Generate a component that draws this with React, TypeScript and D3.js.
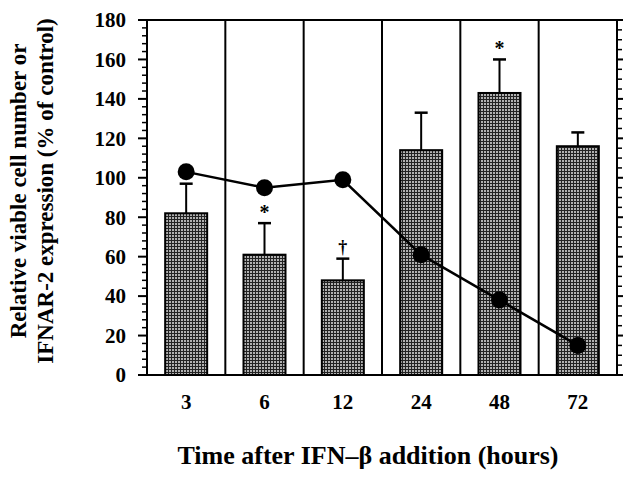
import React from "react";
import * as d3 from "d3";

const categories = ["3", "6", "12", "24", "48", "72"];
const barValues = [82, 61, 48, 114, 143, 116];
const errorTops = [97, 77, 59, 133, 160, 123];
const lineValues = [103, 95, 99, 61, 38, 15];
const marks = ["", "*", "†", "", "*", ""];
const yMajorTicks = [0, 20, 40, 60, 80, 100, 120, 140, 160, 180];

const W = 623;
const H = 478;
const M = { left: 147, right: 6, top: 20, bottom: 103 };

export default function App() {
  const x = d3
    .scaleBand<string>()
    .domain(categories)
    .range([M.left, W - M.right])
    .paddingInner(0)
    .paddingOuter(0);
  const y = d3.scaleLinear().domain([0, 180]).range([H - M.bottom, M.top]);
  const bw = 42;
  const cx = (c: string) => (x(c) as number) + x.bandwidth() / 2;
  const minorLeft = d3.range(0, 181, 4).filter((v) => v % 20 !== 0);
  const minorRight = d3.range(0, 181, 5).filter((v) => v % 20 !== 0);
  const line = d3
    .line<number>()
    .x((_, i) => cx(categories[i]))
    .y((v) => y(v));
  const font = "'Liberation Serif', 'Times New Roman', serif";
  const x0 = M.left;
  const x1 = W - M.right;
  const yTop = y(180);
  const yBot = y(0);

  return (
    <svg
      width={W}
      height={H}
      style={{ position: "absolute", left: 0, top: 0, background: "#fff" }}
      fontFamily={font}
      fontWeight="bold"
    >
      <defs>
        <pattern id="hatch" width="3" height="3" patternUnits="userSpaceOnUse">
          <rect width="3" height="3" fill="#b0b0b0" />
          <path d="M0,0.5H3M0.5,0V3" stroke="#222" strokeWidth="1" />
        </pattern>
      </defs>
      {/* frame */}
      <line x1={x0} x2={x1} y1={yTop} y2={yTop} stroke="#000" strokeWidth={2} />
      <line x1={x0} x2={x1} y1={yBot} y2={yBot} stroke="#000" strokeWidth={2} />
      <line x1={x0} x2={x0} y1={yTop} y2={yBot} stroke="#000" strokeWidth={2} />
      <line x1={x1} x2={x1} y1={yTop} y2={yBot} stroke="#000" strokeWidth={2} />
      {categories.slice(1).map((c) => (
        <line
          key={"sep" + c}
          x1={x(c) as number}
          x2={x(c) as number}
          y1={yTop}
          y2={yBot}
          stroke="#000"
          strokeWidth={2}
        />
      ))}
      {/* left ticks */}
      {yMajorTicks.map((v) => (
        <g key={"ly" + v}>
          <line x1={x0 - 9} x2={x0} y1={y(v)} y2={y(v)} stroke="#000" strokeWidth={2} />
          <text
            x={x0 - 21}
            y={y(v)}
            dy="0.35em"
            textAnchor="end"
            fontSize={21}
          >
            {v}
          </text>
        </g>
      ))}
      {minorLeft.map((v) => (
        <line key={"lm" + v} x1={x0 - 5} x2={x0} y1={y(v)} y2={y(v)} stroke="#000" strokeWidth={1.5} />
      ))}
      {/* right ticks */}
      {yMajorTicks.map((v) => (
        <line key={"ry" + v} x1={x1} x2={x1 + 7} y1={y(v)} y2={y(v)} stroke="#000" strokeWidth={2} />
      ))}
      {minorRight.map((v) => (
        <line key={"rm" + v} x1={x1} x2={x1 + 5} y1={y(v)} y2={y(v)} stroke="#000" strokeWidth={1.5} />
      ))}
      {/* bars */}
      {categories.map((c, i) => (
        <g key={"bar" + c}>
          <line
            x1={cx(c)}
            x2={cx(c)}
            y1={y(barValues[i])}
            y2={y(errorTops[i])}
            stroke="#000"
            strokeWidth={2}
          />
          <line
            x1={cx(c) - 6.5}
            x2={cx(c) + 6.5}
            y1={y(errorTops[i])}
            y2={y(errorTops[i])}
            stroke="#000"
            strokeWidth={2.5}
          />
          <rect
            x={cx(c) - bw / 2}
            y={y(barValues[i])}
            width={bw}
            height={yBot - y(barValues[i])}
            fill="url(#hatch)"
            stroke="#000"
            strokeWidth={2}
          />
          {marks[i] && (
            <text
              x={cx(c)}
              y={y(errorTops[i]) - (marks[i] === "*" ? 4 : 6)}
              textAnchor="middle"
              fontSize={marks[i] === "*" ? 20 : 18}
            >
              {marks[i]}
            </text>
          )}
          <text x={cx(c)} y={yBot + 34} textAnchor="middle" fontSize={21}>
            {c}
          </text>
        </g>
      ))}
      {/* line */}
      <path d={line(lineValues) || ""} fill="none" stroke="#000" strokeWidth={2.5} />
      {lineValues.map((v, i) => (
        <circle key={"pt" + i} cx={cx(categories[i])} cy={y(v)} r={8.5} fill="#000" />
      ))}
      {/* axis titles */}
      <text x={368} y={464} textAnchor="middle" fontSize={26}>
        Time after IFN–β addition (hours)
      </text>
      <text
        transform={`translate(26,191) rotate(-90)`}
        textAnchor="middle"
        fontSize={23}
      >
        Relative viable cell number or
      </text>
      <text
        transform={`translate(53,191) rotate(-90)`}
        textAnchor="middle"
        fontSize={23}
      >
        IFNAR-2 expression (% of control)
      </text>
    </svg>
  );
}
